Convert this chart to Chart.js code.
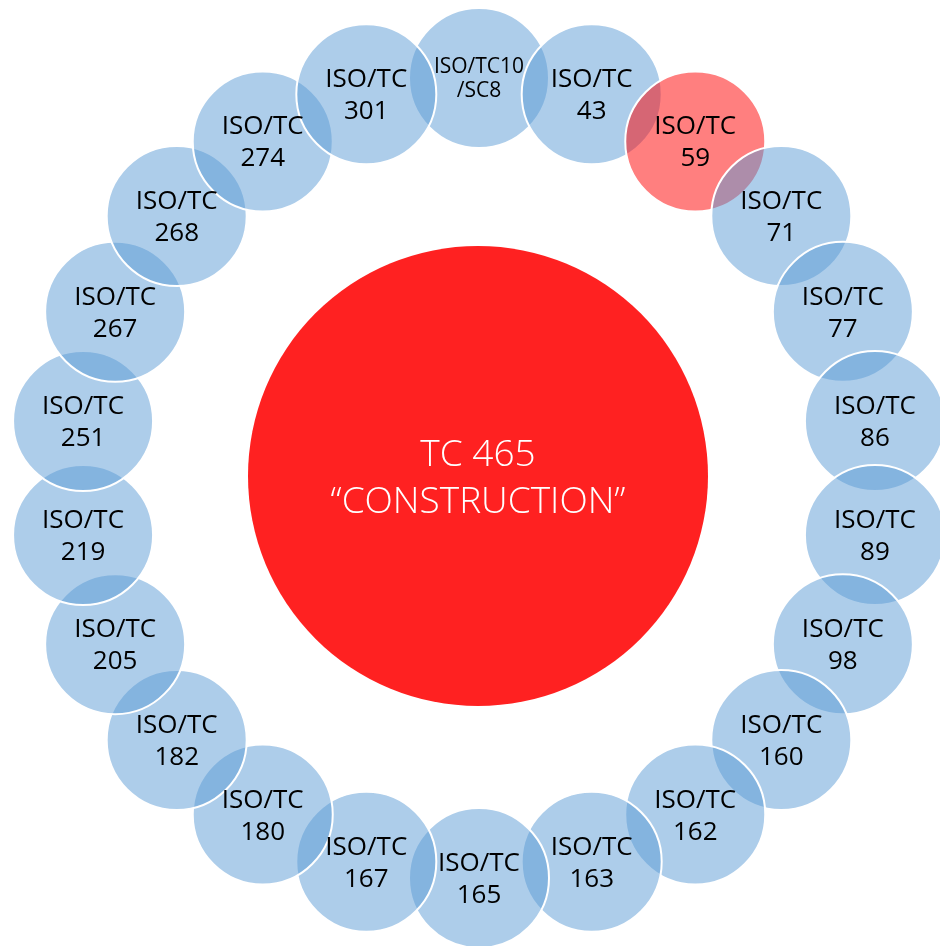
<!DOCTYPE html>
<html>
<head>
<meta charset="utf-8">
<style>
  html, body { margin: 0; padding: 0; background: #ffffff; }
  #wrap { width: 940px; height: 946px; }
</style>
<script src="https://cdn.jsdelivr.net/npm/chart.js@4.4.1/dist/chart.umd.min.js"></script>
</head>
<body>
<div id="wrap"><canvas id="c" width="940" height="946"></canvas></div>
<script>
// ---- data ----
const ringTop = ['ISO/TC10', 'ISO/TC', 'ISO/TC', 'ISO/TC', 'ISO/TC', 'ISO/TC', 'ISO/TC', 'ISO/TC',
  'ISO/TC', 'ISO/TC', 'ISO/TC', 'ISO/TC', 'ISO/TC', 'ISO/TC', 'ISO/TC', 'ISO/TC',
  'ISO/TC', 'ISO/TC', 'ISO/TC', 'ISO/TC', 'ISO/TC', 'ISO/TC'];
const ringBottom = ['/SC8', '43', '59', '71', '77', '86', '89', '98',
  '160', '162', '163', '165', '167', '180', '182', '205',
  '219', '251', '267', '268', '274', '301'];
const highlighted = ['59'];
const centerLines = ['TC 465', '\u201CCONSTRUCTION\u201D'];

// ---- layout (ring placement from category index) ----
const W = 940, H = 946;
const CX = 479, CY = 478, RING_X = 400, RING_Y = 400;
const n = ringBottom.length;
const ringPoints = ringBottom.map((_, k) => {
  const a = 2 * Math.PI * k / n;
  return { x: CX + RING_X * Math.sin(a), y: CY - RING_Y * Math.cos(a) };
});
const ringColors = ringBottom.map(b => highlighted.includes(b) ? 'rgba(255,0,0,0.5)' : 'rgba(91,155,213,0.5)');

const labelPlugin = {
  id: 'bubbleLabels',
  afterDatasetsDraw(chart) {
    const ctx = chart.ctx;
    ctx.save();
    ctx.textAlign = 'center';
    ctx.textBaseline = 'alphabetic';
    const ringMeta = chart.getDatasetMeta(1);
    ringMeta.data.forEach((el, i) => {
      const small = ringTop[i].length > 6;
      ctx.fillStyle = '#000000';
      if (small) {
        ctx.font = '21px "Open Sans"';
        ctx.fillText(ringTop[i], el.x, el.y - 5);
        ctx.fillText(ringBottom[i], el.x, el.y + 19);
      } else {
        ctx.font = '26px "Open Sans"';
        ctx.fillText(ringTop[i], el.x, el.y - 7);
        ctx.fillText(ringBottom[i], el.x, el.y + 25);
      }
    });
    const cMeta = chart.getDatasetMeta(0);
    const ce = cMeta.data[0];
    ctx.fillStyle = '#ffffff';
    ctx.font = '300 37px "Open Sans"';
    ctx.fillText(centerLines[0], ce.x, ce.y - 10);
    ctx.fillText(centerLines[1], ce.x, ce.y + 37);
    ctx.restore();
  }
};

new Chart(document.getElementById('c'), {
  type: 'bubble',
  data: {
    datasets: [
      {
        label: 'TC 465',
        data: [{ x: CX - 1, y: CY - 2 }],
        radius: 230,
        backgroundColor: 'rgb(255,33,33)',
        borderWidth: 0,
        hoverRadius: 0,
        clip: false
      },
      {
        label: 'ISO',
        data: ringPoints,
        radius: 70,
        backgroundColor: ringColors,
        borderColor: '#ffffff',
        borderWidth: 2,
        hoverRadius: 0,
        clip: false
      }
    ]
  },
  options: {
    responsive: false,
    animation: false,
    events: [],
    layout: { padding: 0, autoPadding: false },
    plugins: { legend: { display: false }, tooltip: { enabled: false } },
    scales: {
      x: { type: 'linear', min: 0, max: W, display: false },
      y: { type: 'linear', min: 0, max: H, reverse: true, display: false }
    }
  },
  plugins: [labelPlugin]
});
</script>
</body>
</html>
